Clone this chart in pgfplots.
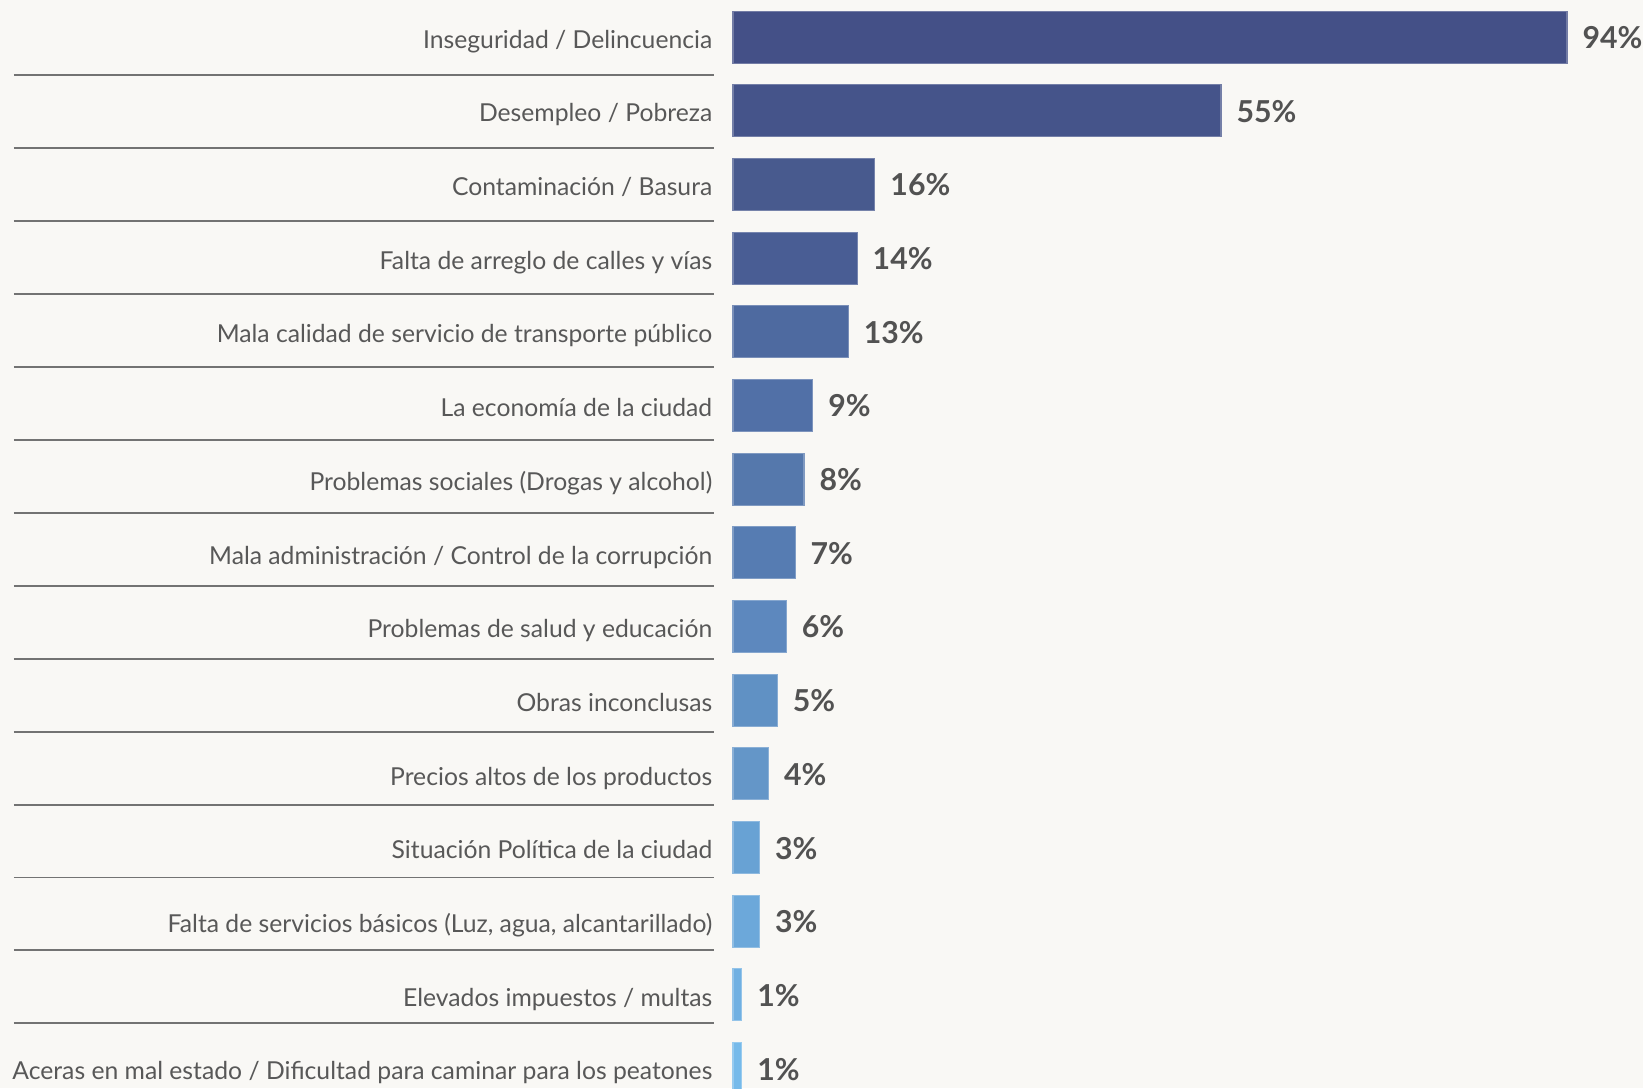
\documentclass[border=0pt]{standalone}
\usepackage{fontspec}
\setmainfont{Lato}
\usepackage{pgfplots}
\pgfplotsset{compat=1.18}

\definecolor{bg}{RGB}{249,248,245}
\definecolor{txt}{RGB}{88,88,88}
\definecolor{pct}{RGB}{82,82,82}
\definecolor{sep}{RGB}{115,115,115}
\definecolor{c0}{RGB}{68,80,135}
\definecolor{c1}{RGB}{69,84,138}
\definecolor{c2}{RGB}{72,90,142}
\definecolor{c3}{RGB}{73,93,148}
\definecolor{c4}{RGB}{78,106,160}
\definecolor{c5}{RGB}{81,112,167}
\definecolor{c6}{RGB}{85,120,172}
\definecolor{c7}{RGB}{86,124,178}
\definecolor{c8}{RGB}{93,136,190}
\definecolor{c9}{RGB}{96,145,196}
\definecolor{c10}{RGB}{100,150,200}
\definecolor{c11}{RGB}{104,162,212}
\definecolor{c12}{RGB}{108,168,218}
\definecolor{c13}{RGB}{112,176,226}
\definecolor{c14}{RGB}{118,186,234}

\begin{document}
\begin{tikzpicture}
  \path[use as bounding box, fill=bg] (0,0) rectangle (164.3mm,108.8mm);
  \begin{axis}[
      at={(73.3mm,108.78mm)}, anchor=north west,
      scale only axis,
      width=83.4mm, height=110.52mm,
      xmin=0, xmax=94,
      ymin=-0.5, ymax=14.5,
      y dir=reverse,
      clip=false,
      axis line style={draw=none},
      tick style={draw=none},
      xtick=\empty,
      ytick={0,...,14},
      yticklabels={
        Inseguridad / Delincuencia,
        Desempleo / Pobreza,
        Contaminación / Basura,
        Falta de arreglo de calles y vías,
        Mala calidad de servicio de transporte público,
        La economía de la ciudad,
        Problemas sociales (Drogas y alcohol),
        Mala administración / Control de la corrupción,
        Problemas de salud y educación,
        Obras inconclusas,
        Precios altos de los productos,
        Situación Política de la ciudad,
        {Falta de servicios básicos (Luz, agua, alcantarillado)},
        Elevados impuestos / multas,
        Aceras en mal estado / Dificultad para caminar para los peatones},
      yticklabel style={anchor=base east, inner sep=0pt, xshift=-2mm, yshift=-1.12mm,
        font=\fontsize{7.03pt}{8.5pt}\selectfont, text=txt},
      every axis plot/.append style={xbar, bar shift=0pt, bar width=5.2mm, line width=0.3pt},
      point meta=x,
      /pgf/number format/assume math mode=true,
      nodes near coords={\pgfmathprintnumber{\pgfplotspointmeta}\%},
      nodes near coords style={anchor=base west, inner sep=0pt, xshift=1.5mm, yshift=-1.15mm,
        font=\fontsize{8.6pt}{10pt}\selectfont\bfseries, text=pct},
    ]
    \addplot[fill=c0, draw=c0!75!white] coordinates {(94,0)};
    \addplot[fill=c1, draw=c1!75!white] coordinates {(55,1)};
    \addplot[fill=c2, draw=c2!75!white] coordinates {(16,2)};
    \addplot[fill=c3, draw=c3!75!white] coordinates {(14,3)};
    \addplot[fill=c4, draw=c4!75!white] coordinates {(13,4)};
    \addplot[fill=c5, draw=c5!75!white] coordinates {(9,5)};
    \addplot[fill=c6, draw=c6!75!white] coordinates {(8,6)};
    \addplot[fill=c7, draw=c7!75!white] coordinates {(7,7)};
    \addplot[fill=c8, draw=c8!75!white] coordinates {(6,8)};
    \addplot[fill=c9, draw=c9!75!white] coordinates {(5,9)};
    \addplot[fill=c10, draw=c10!75!white] coordinates {(4,10)};
    \addplot[fill=c11, draw=c11!75!white] coordinates {(3,11)};
    \addplot[fill=c12, draw=c12!75!white] coordinates {(3,12)};
    \addplot[fill=c13, draw=c13!75!white] coordinates {(1,13)};
    \addplot[fill=c14, draw=c14!75!white] coordinates {(1,14)};
    % separators between rows, left of the bars
    \pgfplotsinvokeforeach{0,...,13}{
      \draw[sep, line width=0.55pt] (axis cs:-81.04,{0.5157+#1*0.99009}) -- (axis cs:-2.14,{0.5157+#1*0.99009});
    }
  \end{axis}
\end{tikzpicture}
\end{document}
